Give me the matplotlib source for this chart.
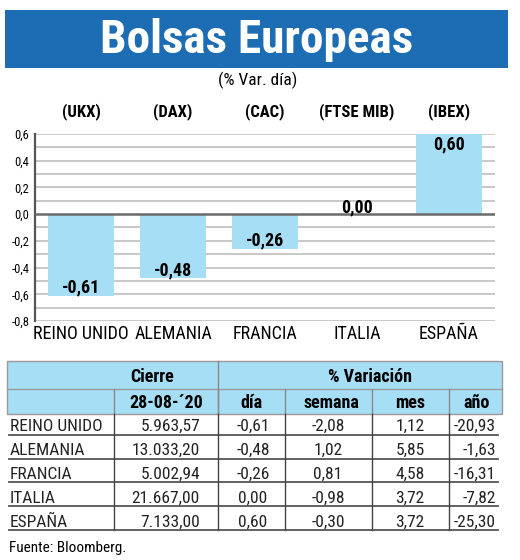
import matplotlib
matplotlib.use("Agg")
import matplotlib.pyplot as plt
import matplotlib.font_manager as fm
from matplotlib.patches import Rectangle
from matplotlib.ticker import FixedLocator, FuncFormatter

# ---- font choice: a condensed sans if one is installed ----
_fonts = fm.fontManager.ttflist
_names = {f.name for f in _fonts}
FAM = None
STRETCH = "normal"
for cand in ["Noto Sans Condensed", "Roboto Condensed", "Liberation Sans Narrow",
             "Open Sans Condensed", "DejaVu Sans Condensed", "Noto Sans Display Condensed"]:
    if cand in _names:
        FAM = cand
        break
if FAM is None:
    for fam in ["Noto Sans", "Open Sans", "DejaVu Sans", "Roboto"]:
        if any(f.name == fam and str(f.stretch) in ("condensed", "semi-condensed", "extra-condensed", "400", "300", "500")
               for f in _fonts):
            FAM = fam
            STRETCH = "condensed"
            break
if FAM is None:
    FAM = "Roboto"
plt.rcParams['font.family'] = [FAM, 'DejaVu Sans']
plt.rcParams['font.stretch'] = STRETCH

# ---- data ----
countries = ["REINO UNIDO", "ALEMANIA", "FRANCIA", "ITALIA", "ESPAÑA"]
tickers = ["(UKX)", "(DAX)", "(CAC)", "(FTSE MIB)", "(IBEX)"]
var_dia = [-0.61, -0.48, -0.26, 0.00, 0.60]
cierre = ["5.963,57", "13.033,20", "5.002,94", "21.667,00", "7.133,00"]
dia = ["-0,61", "-0,48", "-0,26", "0,00", "0,60"]
semana = ["-2,08", "1,02", "0,81", "-0,98", "-0,30"]
mes = ["1,12", "5,85", "4,58", "3,72", "3,72"]
anio = ["-20,93", "-1,63", "-16,31", "-7,82", "-25,30"]
yticks = [-0.8, -0.6, -0.4, -0.2, 0.0, 0.2, 0.4, 0.6]

W, H = 520, 560
BLUE = "#1d6db4"
LIGHT = "#a6def6"

fig = plt.figure(figsize=(W / 100, H / 100), dpi=100)
fig.patch.set_facecolor("white")

ov = fig.add_axes([0, 0, 1, 1])
ov.set_xlim(0, W)
ov.set_ylim(H, 0)
ov.axis("off")

ov.add_patch(Rectangle((5, 10), 503, 58, facecolor=BLUE, edgecolor="none"))
ov.text(257, 40, "Bolsas Europeas", color="white", fontsize=34, fontweight="bold",
        ha="center", va="center")
ov.text(258, 80, "(% Var. día)", fontsize=12.5, ha="center", va="center")

# ---- bar chart ----
ax = fig.add_axes([35 / W, 1 - 321 / H, 460 / W, (321 - 134) / H])
x = list(range(len(countries)))
ax.bar(x, var_dia, width=0.72, color=LIGHT, zorder=2)
ax.set_xlim(-0.5, 4.5)
ax.set_ylim(-0.8, 0.6)
for v in [i / 10 for i in range(-8, 7)]:
    if abs(v) < 1e-9:
        continue
    ax.axhline(v, color="#c8c8c8", lw=1.4, zorder=1)
ax.axhline(0, color="#6a6a6a", lw=1.8, zorder=3)
for s in ["top", "right", "bottom"]:
    ax.spines[s].set_visible(False)
ax.spines["left"].set_color("#555555")
ax.spines["left"].set_linewidth(1.6)
ax.yaxis.set_major_locator(FixedLocator(yticks))
ax.yaxis.set_major_formatter(FuncFormatter(lambda v, p: f"{v:.1f}".replace(".", ",")))
ax.tick_params(axis="y", length=0, labelsize=9, pad=4)
ax.set_xticks(x)
ax.set_xticklabels(countries, fontsize=13)
ax.tick_params(axis="x", length=0, pad=3)
ax.set_facecolor("none")

for xi, v, lab in zip(x, var_dia, dia):
    if v < 0:
        off = 6
    elif v > 0:
        off = -7.5
    else:
        off = 4.5
    ax.annotate(lab, (xi, v), xytext=(0, off), textcoords="offset points",
                ha="center", va="center", fontsize=13, fontweight="bold", zorder=4)
for xi, t in zip(x, tickers):
    ax.annotate(t, (xi, 1), xycoords=("data", "axes fraction"), xytext=(0, 16),
                textcoords="offset points", ha="center", va="center",
                fontsize=12, fontweight="bold")

# ---- table ----
L, R = 7, 502
top, mid, hb = 361, 389, 414
ov.add_patch(Rectangle((L, top), R - L, hb - top, facecolor=LIGHT,
                       edgecolor="#9a9a9a", lw=1.0))
ov.plot([L, R], [mid, mid], color="#9a9a9a", lw=1.0)
cols = [114, 218, 285, 372, 449]
ov.plot([218, 218], [top, hb], color="#8a8a8a", lw=1.0)
for c in cols:
    ov.plot([c, c], [mid, hb], color="#8a8a8a", lw=1.0)
ov.text(152, 377, "Cierre", fontsize=13, fontweight="bold", ha="center", va="center")
ov.text(370, 377, "% Variación", fontsize=13, fontweight="bold", ha="center", va="center")
hdrs = ["28-08-´20", "día", "semana", "mes", "año"]
hx = [166, 251, 331, 410, 477]
for h, xx in zip(hdrs, hx):
    ov.text(xx, 403, h, fontsize=13, fontweight="bold", ha="center", va="center")

row_h = 23.8
for i in range(len(countries)):
    y0 = hb + i * row_h
    yl = y0 + row_h - 3
    yc = yl - 8
    ov.plot([9, 498], [yl, yl], color="#555555", lw=1.3)
    ov.text(10, yc, countries[i], fontsize=12.5, ha="left", va="center", color="#222222")
    ov.text(200, yc, cierre[i], fontsize=12.5, ha="right", va="center", color="#222222")
    ov.text(253, yc, dia[i], fontsize=12.5, ha="center", va="center", color="#222222")
    ov.text(328, yc, semana[i], fontsize=12.5, ha="center", va="center", color="#222222")
    ov.text(410, yc, mes[i], fontsize=12.5, ha="center", va="center", color="#222222")
    ov.text(496, yc, anio[i], fontsize=12.5, ha="right", va="center", color="#222222")
bottom = hb + 5 * row_h - 3
for c in cols:
    ov.plot([c, c], [hb, bottom], color="#444444", lw=1.0)

ov.text(9, 548, "Fuente: Bloomberg.", fontsize=11, ha="left", va="center")

fig.savefig("out.png", dpi=100)
